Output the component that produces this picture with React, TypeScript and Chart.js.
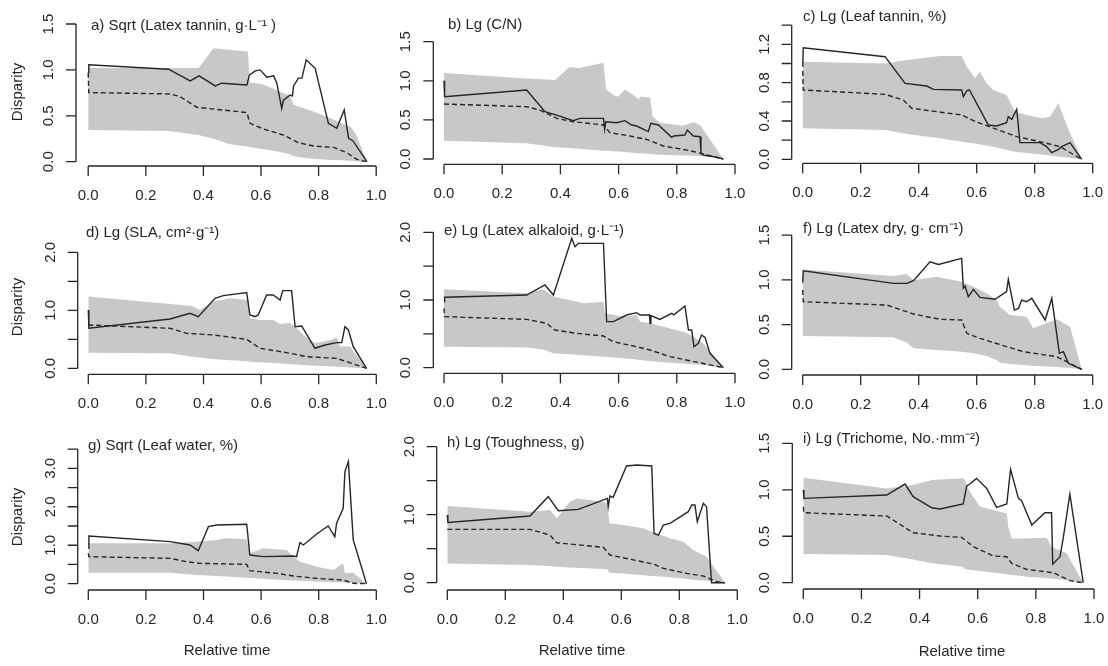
import React, { useEffect, useRef } from "react";
import { Chart, registerables } from "chart.js";

Chart.register(...registerables);

// ---------------- shared ticks ----------------
const xTickVals = [0, 0.2, 0.4, 0.6, 0.8, 1.0];
const xTickLabels = ["0.0", "0.2", "0.4", "0.6", "0.8", "1.0"];
const yTicks15 = [0, 0.5, 1.0, 1.5];
const yLabels15 = ["0.0", "0.5", "1.0", "1.5"];
const yTicks20 = [0, 0.5, 1.0, 1.5, 2.0];
const yLabels20 = ["0.0", "", "1.0", "", "2.0"];
const yTicks14 = [0, 0.2, 0.4, 0.6, 0.8, 1.0, 1.2, 1.4];
const yLabels14 = ["0.0", "", "0.4", "", "0.8", "", "1.2", ""];
const yTicks35 = [0, 0.5, 1.0, 1.5, 2.0, 2.5, 3.0, 3.5];
const yLabels35 = ["0.0", "", "1.0", "", "2.0", "", "3.0", ""];

// ---------------- panel a ----------------
const aObsT = [0, 0.002, 0.279, 0.354, 0.385, 0.441, 0.464, 0.551, 0.56, 0.58, 0.597, 0.62, 0.644, 0.655, 0.672, 0.678, 0.701, 0.709, 0.713, 0.73, 0.742, 0.757, 0.788, 0.834, 0.863, 0.889, 0.904, 0.919, 0.968];
const aObsV = [0.97, 1.055, 1.007, 0.88, 0.935, 0.825, 0.855, 0.836, 0.945, 0.99, 1.0, 0.92, 0.935, 0.855, 0.58, 0.67, 0.727, 0.716, 0.825, 0.91, 0.91, 1.11, 1.018, 0.418, 0.364, 0.564, 0.255, 0.229, 0];
const aMedT = [0, 0.002, 0.285, 0.319, 0.377, 0.551, 0.562, 0.609, 0.678, 0.73, 0.782, 0.852, 0.898, 0.933, 0.968];
const aMedV = [0.97, 0.753, 0.738, 0.709, 0.593, 0.535, 0.418, 0.356, 0.29, 0.207, 0.171, 0.156, 0.098, 0.025, 0];
const aBandT = [0, 0.279, 0.383, 0.435, 0.493, 0.555, 0.56, 0.6, 0.64, 0.667, 0.7, 0.713, 0.73, 0.77, 0.83, 0.88, 0.91, 0.93, 0.968];
const aBandHi = [1.02, 1.02, 1.02, 1.236, 1.218, 1.2, 0.862, 0.85, 0.8, 0.76, 0.72, 0.62, 0.6, 0.56, 0.49, 0.42, 0.38, 0.3, 0];
const aBandLo = [0.345, 0.335, 0.29, 0.25, 0.19, 0.165, 0.16, 0.14, 0.12, 0.105, 0.08, 0.062, 0.05, 0.035, 0.02, 0.015, 0.01, 0.005, 0];

// ---------------- panel b ----------------
const bObsT = [0, 0.002, 0.284, 0.347, 0.387, 0.444, 0.467, 0.548, 0.552, 0.556, 0.593, 0.622, 0.645, 0.662, 0.702, 0.711, 0.737, 0.782, 0.79, 0.828, 0.836, 0.857, 0.88, 0.883, 0.891, 0.926, 0.96];
const bObsV = [1.0, 0.797, 0.882, 0.605, 0.562, 0.49, 0.52, 0.52, 0.38, 0.477, 0.464, 0.49, 0.435, 0.422, 0.35, 0.456, 0.435, 0.277, 0.294, 0.307, 0.37, 0.294, 0.285, 0.072, 0.05, 0.03, 0];
const bMedT = [0, 0.284, 0.33, 0.387, 0.444, 0.548, 0.57, 0.639, 0.696, 0.754, 0.845, 0.891, 0.96];
const bMedV = [0.703, 0.669, 0.626, 0.52, 0.477, 0.435, 0.337, 0.294, 0.251, 0.166, 0.107, 0.064, 0];
const bBandT = [0, 0.284, 0.381, 0.433, 0.462, 0.548, 0.557, 0.582, 0.599, 0.622, 0.651, 0.668, 0.674, 0.708, 0.717, 0.742, 0.822, 0.857, 0.88, 0.96];
const bBandHi = [1.1, 1.03, 1.01, 1.18, 1.16, 1.23, 0.89, 0.818, 0.797, 0.89, 0.818, 0.763, 0.797, 0.788, 0.541, 0.464, 0.426, 0.469, 0.435, 0];
const bBandLo = [0.234, 0.2, 0.15, 0.14, 0.13, 0.107, 0.105, 0.1, 0.095, 0.09, 0.08, 0.075, 0.073, 0.065, 0.06, 0.055, 0.045, 0.04, 0.038, 0];

// ---------------- panel c ----------------
const cObsT = [0, 0.002, 0.284, 0.353, 0.428, 0.451, 0.548, 0.554, 0.566, 0.575, 0.611, 0.64, 0.669, 0.703, 0.709, 0.721, 0.738, 0.749, 0.818, 0.841, 0.859, 0.882, 0.893, 0.922, 0.962];
const cObsV = [0.967, 1.165, 1.071, 0.793, 0.765, 0.73, 0.723, 0.654, 0.717, 0.723, 0.522, 0.358, 0.348, 0.383, 0.445, 0.417, 0.522, 0.174, 0.174, 0.132, 0.07, 0.104, 0.132, 0.174, 0];
const cMedT = [0, 0.002, 0.284, 0.347, 0.376, 0.462, 0.548, 0.589, 0.68, 0.738, 0.818, 0.887, 0.962];
const cMedV = [0.922, 0.723, 0.678, 0.619, 0.532, 0.497, 0.463, 0.403, 0.3, 0.237, 0.184, 0.132, 0];
const cBandT = [0, 0.284, 0.359, 0.474, 0.548, 0.566, 0.594, 0.611, 0.634, 0.657, 0.703, 0.732, 0.772, 0.824, 0.853, 0.882, 0.91, 0.962];
const cBandHi = [1.019, 1.0, 1.037, 1.078, 1.078, 0.967, 0.845, 0.915, 0.793, 0.723, 0.671, 0.497, 0.463, 0.428, 0.445, 0.584, 0.358, 0];
const cBandLo = [0.323, 0.306, 0.265, 0.22, 0.184, 0.175, 0.165, 0.155, 0.145, 0.13, 0.1, 0.08, 0.065, 0.05, 0.04, 0.03, 0.02, 0];

// ---------------- panel d ----------------
const dObsT = [0, 0.002, 0.284, 0.353, 0.382, 0.44, 0.469, 0.55, 0.561, 0.579, 0.59, 0.619, 0.642, 0.666, 0.675, 0.706, 0.718, 0.741, 0.787, 0.822, 0.862, 0.88, 0.891, 0.903, 0.92, 0.966];
const dObsV = [1.006, 0.69, 0.85, 0.948, 0.89, 1.207, 1.253, 1.305, 0.92, 0.89, 0.92, 1.264, 1.264, 1.178, 1.339, 1.339, 0.718, 0.73, 0.345, 0.402, 0.443, 0.443, 0.718, 0.661, 0.374, 0];
const dMedT = [0, 0.284, 0.341, 0.434, 0.55, 0.596, 0.689, 0.758, 0.862, 0.897, 0.966];
const dMedV = [0.747, 0.69, 0.603, 0.575, 0.5, 0.345, 0.27, 0.201, 0.172, 0.115, 0];
const dBandT = [0, 0.284, 0.359, 0.388, 0.434, 0.492, 0.556, 0.561, 0.596, 0.642, 0.666, 0.7, 0.718, 0.747, 0.787, 0.851, 0.862, 0.874, 0.909, 0.966];
const dBandHi = [1.236, 1.11, 1.075, 1.006, 1.149, 1.207, 1.178, 0.862, 0.833, 0.833, 0.764, 0.787, 0.718, 0.575, 0.431, 0.5, 0.546, 0.374, 0.374, 0];
const dBandLo = [0.27, 0.259, 0.201, 0.185, 0.16, 0.14, 0.12, 0.115, 0.105, 0.09, 0.085, 0.07, 0.065, 0.057, 0.045, 0.03, 0.028, 0.025, 0.015, 0];

// ---------------- panel e ----------------
const eObsT = [0, 0.002, 0.284, 0.347, 0.376, 0.439, 0.45, 0.462, 0.548, 0.559, 0.582, 0.628, 0.662, 0.674, 0.706, 0.708, 0.711, 0.742, 0.782, 0.79, 0.828, 0.84, 0.851, 0.859, 0.874, 0.885, 0.897, 0.914, 0.96];
const eObsV = [0.975, 1.04, 1.074, 1.222, 1.074, 1.911, 1.788, 1.837, 1.837, 0.68, 0.68, 0.778, 0.813, 0.778, 0.778, 0.655, 0.77, 0.714, 0.803, 0.78, 0.911, 0.557, 0.557, 0.31, 0.36, 0.483, 0.448, 0.212, 0];
const eMedT = [0, 0.002, 0.284, 0.353, 0.381, 0.456, 0.548, 0.582, 0.662, 0.708, 0.777, 0.845, 0.96];
const eMedV = [0.877, 0.754, 0.714, 0.655, 0.557, 0.507, 0.468, 0.384, 0.31, 0.261, 0.163, 0.103, 0];
const eBandT = [0, 0.284, 0.341, 0.376, 0.433, 0.479, 0.548, 0.553, 0.616, 0.662, 0.674, 0.708, 0.754, 0.834, 0.891, 0.96];
const eBandHi = [1.158, 1.099, 1.158, 1.049, 1.0, 0.951, 0.975, 0.803, 0.754, 0.778, 0.68, 0.655, 0.606, 0.517, 0.36, 0];
const eBandLo = [0.31, 0.3, 0.27, 0.212, 0.2, 0.185, 0.163, 0.16, 0.14, 0.12, 0.115, 0.1, 0.08, 0.06, 0.04, 0];

// ---------------- panel f ----------------
const fObsT = [0, 0.002, 0.313, 0.359, 0.382, 0.439, 0.468, 0.548, 0.554, 0.56, 0.571, 0.589, 0.611, 0.663, 0.703, 0.709, 0.73, 0.744, 0.755, 0.772, 0.79, 0.836, 0.859, 0.885, 0.899, 0.916, 0.962];
const fObsV = [0.968, 1.1, 0.96, 0.96, 0.99, 1.202, 1.172, 1.239, 0.904, 0.93, 0.811, 0.893, 0.804, 0.782, 0.867, 1.005, 0.662, 0.681, 0.774, 0.755, 0.793, 0.551, 0.793, 0.179, 0.197, 0.067, 0];
const fMedT = [0, 0.002, 0.29, 0.382, 0.474, 0.548, 0.566, 0.611, 0.703, 0.761, 0.876, 0.962];
const fMedV = [0.886, 0.755, 0.718, 0.618, 0.558, 0.551, 0.402, 0.346, 0.253, 0.197, 0.141, 0];
const fBandT = [0, 0.313, 0.359, 0.382, 0.462, 0.548, 0.589, 0.634, 0.669, 0.68, 0.715, 0.772, 0.795, 0.876, 0.922, 0.962];
const fBandHi = [1.116, 1.042, 1.064, 0.997, 1.035, 0.979, 0.923, 0.849, 0.774, 0.7, 0.607, 0.588, 0.458, 0.558, 0.476, 0];
const fBandLo = [0.372, 0.357, 0.3, 0.234, 0.215, 0.197, 0.18, 0.15, 0.1, 0.074, 0.06, 0.045, 0.04, 0.025, 0.015, 0];

// ---------------- panel g ----------------
const gObsT = [0, 0.002, 0.284, 0.353, 0.382, 0.417, 0.446, 0.55, 0.561, 0.608, 0.712, 0.723, 0.735, 0.747, 0.793, 0.833, 0.856, 0.862, 0.885, 0.891, 0.903, 0.92, 0.966];
const gObsV = [0.919, 1.24, 1.093, 1.006, 0.859, 1.483, 1.526, 1.544, 0.746, 0.703, 0.72, 0.703, 1.067, 1.006, 1.292, 1.5, 1.223, 1.57, 1.96, 2.914, 3.174, 1.136, 0];
const gMedT = [0, 0.002, 0.284, 0.341, 0.388, 0.55, 0.561, 0.654, 0.712, 0.793, 0.885, 0.92, 0.966];
const gMedV = [0.789, 0.703, 0.659, 0.572, 0.529, 0.503, 0.338, 0.269, 0.2, 0.139, 0.095, 0.01, 0];
const gBandT = [0, 0.284, 0.376, 0.446, 0.48, 0.55, 0.561, 0.608, 0.689, 0.712, 0.735, 0.793, 0.851, 0.885, 0.891, 0.92, 0.966];
const gBandHi = [1.049, 1.049, 1.093, 1.136, 1.18, 1.153, 0.789, 0.919, 0.876, 0.703, 0.572, 0.442, 0.356, 0.529, 0.269, 0.286, 0];
const gBandLo = [0.286, 0.286, 0.225, 0.2, 0.19, 0.156, 0.15, 0.13, 0.09, 0.08, 0.078, 0.06, 0.04, 0.03, 0.03, 0.02, 0];

// ---------------- panel h ----------------
const hObsT = [0, 0.002, 0.285, 0.348, 0.383, 0.452, 0.552, 0.555, 0.561, 0.572, 0.618, 0.653, 0.705, 0.713, 0.728, 0.745, 0.768, 0.831, 0.843, 0.854, 0.862, 0.883, 0.894, 0.911, 0.957];
const hObsV = [0.995, 0.887, 0.98, 1.265, 1.059, 1.078, 1.24, 1.118, 1.275, 1.255, 1.716, 1.73, 1.716, 0.725, 0.701, 0.848, 0.873, 1.044, 1.142, 1.142, 0.897, 1.167, 1.118, 0, 0];
const hMedT = [0, 0.285, 0.354, 0.377, 0.538, 0.561, 0.71, 0.745, 0.825, 0.883, 0.929, 0.957];
const hMedV = [0.784, 0.784, 0.701, 0.588, 0.52, 0.407, 0.275, 0.211, 0.137, 0.098, 0.015, 0];
const hBandT = [0, 0.285, 0.354, 0.377, 0.423, 0.446, 0.538, 0.552, 0.559, 0.607, 0.676, 0.705, 0.768, 0.814, 0.848, 0.894, 0.957];
const hBandHi = [1.127, 1.044, 1.069, 0.946, 1.191, 1.24, 1.191, 1.167, 0.873, 0.848, 0.799, 0.75, 0.652, 0.603, 0.48, 0.382, 0];
const hBandLo = [0.284, 0.26, 0.245, 0.235, 0.225, 0.22, 0.2, 0.196, 0.147, 0.135, 0.11, 0.1, 0.08, 0.06, 0.045, 0.03, 0];

// ---------------- panel i ----------------
const iObsT = [0, 0.002, 0.287, 0.35, 0.378, 0.442, 0.47, 0.55, 0.562, 0.573, 0.596, 0.631, 0.665, 0.7, 0.713, 0.74, 0.751, 0.786, 0.831, 0.854, 0.858, 0.883, 0.894, 0.917, 0.963];
const iObsV = [0.998, 0.908, 0.944, 1.062, 0.926, 0.807, 0.793, 0.847, 1.041, 1.062, 1.123, 1.015, 0.811, 0.847, 1.22, 0.908, 0.883, 0.621, 0.753, 0.753, 0.2, 0.28, 0.477, 0.954, 0];
const iMedT = [0, 0.002, 0.287, 0.378, 0.47, 0.545, 0.585, 0.654, 0.7, 0.717, 0.768, 0.86, 0.917, 0.963];
const iMedV = [0.818, 0.753, 0.718, 0.538, 0.502, 0.488, 0.388, 0.287, 0.28, 0.208, 0.144, 0.108, 0.022, 0];
const iBandT = [0, 0.287, 0.378, 0.442, 0.55, 0.556, 0.573, 0.608, 0.654, 0.7, 0.705, 0.717, 0.768, 0.837, 0.854, 0.906, 0.963];
const iBandHi = [1.13, 1.015, 1.051, 1.105, 1.123, 1.1, 0.98, 0.818, 0.782, 0.746, 0.603, 0.477, 0.477, 0.484, 0.388, 0.316, 0];
const iBandLo = [0.309, 0.298, 0.251, 0.21, 0.172, 0.144, 0.14, 0.125, 0.11, 0.09, 0.088, 0.085, 0.065, 0.05, 0.045, 0.03, 0];

// ---------------- styles ----------------
const INK = "#262626";
const BAND = "#c8c8ca";
const FONT_FAMILY = "'Liberation Sans', Arial, Helvetica, sans-serif";
const FONT = `15px ${FONT_FAMILY}`;
const W = 1108;
const H = 666;

type Layout = {
  spineX: number; axisY: number; x0: number; pxX: number; y0: number; pxY: number;
  titleX: number; titleY: number; dispY?: number; rtX?: number; rtY?: number;
};

type PanelCfg = {
  title: string;
  obsT: number[]; obsV: number[]; medT: number[]; medV: number[];
  bandT: number[]; bandHi: number[]; bandLo: number[];
  yTicks: number[]; yLabels: string[];
  L: Layout;
};

const PANELS: PanelCfg[] = [
  { title: "a) Sqrt (Latex tannin, g·L⁻¹ )", obsT: aObsT, obsV: aObsV, medT: aMedT, medV: aMedV, bandT: aBandT, bandHi: aBandHi, bandLo: aBandLo,
    yTicks: yTicks15, yLabels: yLabels15,
    L: { spineX: 76, axisY: 166, x0: 88.2, pxX: 288, y0: 161.7, pxY: 91.8, titleX: 91, titleY: 26, dispY: 92 } },
  { title: "b) Lg (C/N)", obsT: bObsT, obsV: bObsV, medT: bMedT, medV: bMedV, bandT: bBandT, bandHi: bBandHi, bandLo: bBandLo,
    yTicks: yTicks15, yLabels: yLabels15,
    L: { spineX: 433.3, axisY: 164.3, x0: 444, pxX: 291, y0: 159, pxY: 78.2, titleX: 448, titleY: 25 } },
  { title: "c) Lg (Leaf tannin, %)", obsT: cObsT, obsV: cObsV, medT: cMedT, medV: cMedV, bandT: cBandT, bandHi: cBandHi, bandLo: cBandLo,
    yTicks: yTicks14, yLabels: yLabels14,
    L: { spineX: 791.7, axisY: 163.3, x0: 802.7, pxX: 290, y0: 159.3, pxY: 95.8, titleX: 803, titleY: 17 } },
  { title: "d) Lg (SLA, cm²·g⁻¹)", obsT: dObsT, obsV: dObsV, medT: dMedT, medV: dMedV, bandT: dBandT, bandHi: dBandHi, bandLo: dBandLo,
    yTicks: yTicks20, yLabels: yLabels20,
    L: { spineX: 77.7, axisY: 374.3, x0: 88.3, pxX: 288, y0: 368.3, pxY: 58, titleX: 86, titleY: 233, dispY: 307 } },
  { title: "e) Lg (Latex alkaloid, g·L⁻¹)", obsT: eObsT, obsV: eObsV, medT: eMedT, medV: eMedV, bandT: eBandT, bandHi: eBandHi, bandLo: eBandLo,
    yTicks: yTicks20, yLabels: yLabels20,
    L: { spineX: 433.3, axisY: 373.3, x0: 444, pxX: 291, y0: 367.7, pxY: 67.7, titleX: 444, titleY: 231 } },
  { title: "f) Lg (Latex dry, g· cm⁻¹)", obsT: fObsT, obsV: fObsV, medT: fMedT, medV: fMedV, bandT: fBandT, bandHi: fBandHi, bandLo: fBandLo,
    yTicks: yTicks15, yLabels: yLabels15,
    L: { spineX: 791.7, axisY: 375, x0: 802.7, pxX: 290, y0: 369.3, pxY: 89.5, titleX: 803, titleY: 229 } },
  { title: "g) Sqrt (Leaf water, %)", obsT: gObsT, obsV: gObsV, medT: gMedT, medV: gMedV, bandT: gBandT, bandHi: gBandHi, bandLo: gBandLo,
    yTicks: yTicks35, yLabels: yLabels35,
    L: { spineX: 77.7, axisY: 590, x0: 88.3, pxX: 288, y0: 583.7, pxY: 38.47, titleX: 88, titleY: 446, dispY: 517, rtX: 227, rtY: 651 } },
  { title: "h) Lg (Toughness, g)", obsT: hObsT, obsV: hObsV, medT: hMedT, medV: hMedV, bandT: hBandT, bandHi: hBandHi, bandLo: hBandLo,
    yTicks: yTicks20, yLabels: yLabels20,
    L: { spineX: 436.7, axisY: 590, x0: 447.3, pxX: 290, y0: 582.7, pxY: 68, titleX: 447, titleY: 443, rtX: 582, rtY: 651 } },
  { title: "i) Lg (Trichome, No.·mm⁻²)", obsT: iObsT, obsV: iObsV, medT: iMedT, medV: iMedV, bandT: iBandT, bandHi: iBandHi, bandLo: iBandLo,
    yTicks: yTicks15, yLabels: yLabels15,
    L: { spineX: 792.3, axisY: 589, x0: 803.3, pxX: 290.7, y0: 582.7, pxY: 92.9, titleX: 803, titleY: 439, rtX: 962, rtY: 652 } },
];

const pts = (t: number[], v: number[]) => t.map((x, i) => ({ x, y: v[i] }));

function makeAxesPlugin(p: PanelCfg) {
  return {
    id: "rAxes",
    afterDraw(chart: any) {
      const { ctx, chartArea: area, scales } = chart;
      const xs = scales.x;
      const ys = scales.y;
      const L = p.L;
      ctx.save();
      ctx.strokeStyle = INK;
      ctx.fillStyle = INK;
      ctx.lineWidth = 1.3;
      ctx.font = FONT;
      const tickLen = 10;

      // x axis (R style: spans first to last tick)
      const xb = area.bottom;
      ctx.beginPath();
      ctx.moveTo(xs.getPixelForValue(xTickVals[0]), xb);
      ctx.lineTo(xs.getPixelForValue(xTickVals[xTickVals.length - 1]), xb);
      xTickVals.forEach((v) => {
        const px = xs.getPixelForValue(v);
        ctx.moveTo(px, xb);
        ctx.lineTo(px, xb + tickLen);
      });
      ctx.stroke();
      ctx.textAlign = "center";
      ctx.textBaseline = "middle";
      xTickVals.forEach((v, i) => {
        ctx.fillText(xTickLabels[i], xs.getPixelForValue(v), xb + 29.5);
      });

      // y axis
      const yl = area.left;
      ctx.beginPath();
      ctx.moveTo(yl, ys.getPixelForValue(p.yTicks[0]));
      ctx.lineTo(yl, ys.getPixelForValue(p.yTicks[p.yTicks.length - 1]));
      p.yTicks.forEach((v) => {
        const py = ys.getPixelForValue(v);
        ctx.moveTo(yl, py);
        ctx.lineTo(yl - tickLen, py);
      });
      ctx.stroke();
      p.yTicks.forEach((v, i) => {
        const lab = p.yLabels[i];
        if (!lab) return;
        ctx.save();
        ctx.translate(yl - 27, ys.getPixelForValue(v));
        ctx.rotate(-Math.PI / 2);
        ctx.fillText(lab, 0, 0);
        ctx.restore();
      });

      // panel title
      ctx.textAlign = "left";
      ctx.fillText(p.title, L.titleX, L.titleY);

      // axis titles
      ctx.textAlign = "center";
      if (L.dispY !== undefined) {
        ctx.save();
        ctx.translate(18, L.dispY);
        ctx.rotate(-Math.PI / 2);
        ctx.fillText("Disparity", 0, 0);
        ctx.restore();
      }
      if (L.rtX !== undefined && L.rtY !== undefined) {
        ctx.fillText("Relative time", L.rtX, L.rtY);
      }
      ctx.restore();
    },
  };
}

function Panel({ p }: { p: PanelCfg }) {
  const ref = useRef<HTMLCanvasElement | null>(null);
  useEffect(() => {
    if (!ref.current) return;
    const L = p.L;
    const xMin = (L.spineX - L.x0) / L.pxX;
    const xMax = 1.01;
    const chartRight = L.x0 + xMax * L.pxX;
    const yMin = (L.y0 - L.axisY) / L.pxY;
    const yMax = p.yTicks[p.yTicks.length - 1] + 4 / L.pxY;
    const chartTop = L.y0 - yMax * L.pxY;
    const chart = new Chart(ref.current, {
      type: "line",
      data: {
        datasets: [
          { label: "Observed", data: pts(p.obsT, p.obsV), borderColor: INK, borderWidth: 1.4, pointRadius: 0, fill: false, tension: 0 },
          { label: "Median (null)", data: pts(p.medT, p.medV), borderColor: INK, borderWidth: 1.4, borderDash: [5, 3], pointRadius: 0, fill: false, tension: 0 },
          { label: "Lower", data: pts(p.bandT, p.bandLo), borderColor: "rgba(0,0,0,0)", backgroundColor: BAND, borderWidth: 0, pointRadius: 0, fill: false, tension: 0 },
          { label: "Upper", data: pts(p.bandT, p.bandHi), borderColor: "rgba(0,0,0,0)", backgroundColor: BAND, borderWidth: 0, pointRadius: 0, fill: "-1", tension: 0 },
        ],
      } as any,
      options: {
        responsive: false,
        maintainAspectRatio: false,
        devicePixelRatio: 1,
        animation: false,
        events: [],
        layout: {
          padding: {
            left: L.spineX,
            top: chartTop,
            right: W - chartRight,
            bottom: H - L.axisY,
          },
        },
        scales: {
          x: { type: "linear", display: false, min: xMin, max: xMax },
          y: { type: "linear", display: false, min: yMin, max: yMax },
        },
        plugins: {
          legend: { display: false },
          tooltip: { enabled: false },
          title: { display: false },
        },
      } as any,
      plugins: [makeAxesPlugin(p)],
    });
    return () => chart.destroy();
  }, [p]);
  return (
    <canvas
      ref={ref}
      width={W}
      height={H}
      style={{ position: "absolute", left: 0, top: 0, width: W, height: H }}
    />
  );
}

export default function App() {
  return (
    <div style={{ position: "absolute", left: 0, top: 0, width: W, height: H, background: "#ffffff" }}>
      {PANELS.map((p, i) => (
        <Panel key={i} p={p} />
      ))}
    </div>
  );
}
